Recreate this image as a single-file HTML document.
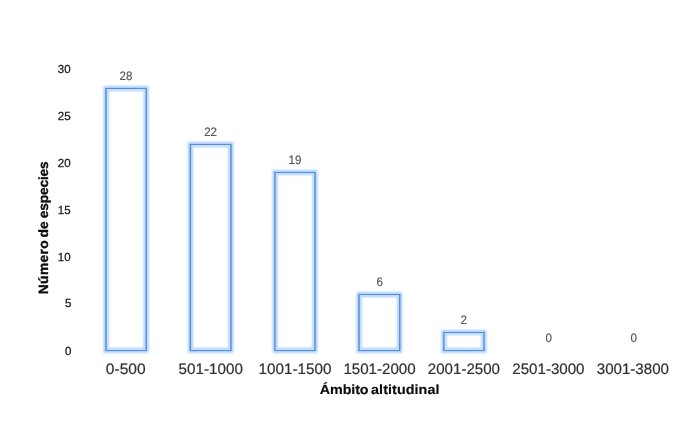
<!DOCTYPE html>
<html lang="es">
<head>
<meta charset="utf-8">
<title>Número de especies por ámbito altitudinal</title>
<style>
html,body{margin:0;padding:0;background:#fff;}
body{width:700px;height:441px;overflow:hidden;}
svg{display:block;}
text{font-family:"Liberation Sans",sans-serif;text-rendering:geometricPrecision;}
.ax{font-size:11.7px;fill:#151515;stroke:#151515;stroke-width:0.25px;}
.val{font-size:12.3px;fill:#595959;stroke:#595959;stroke-width:0.2px;}
.cat{font-size:15.1px;fill:#303030;stroke:#303030;stroke-width:0.2px;}
.ttl{font-size:13.4px;font-weight:bold;fill:#0c0c0c;stroke:#0c0c0c;stroke-width:0.15px;}
.yt{stroke-width:0.32px;}
.glow{fill:none;stroke:#a6ccfc;stroke-width:4.8;filter:url(#gl);}
.glin{fill:none;stroke:#c3dfff;stroke-width:2.2;filter:url(#gl2);}
.edge{fill:#5a8dd4;stroke:none;}
</style>
</head>
<body>
<svg width="700" height="441" viewBox="0 0 700 441" role="img" aria-label="Número de especies por ámbito altitudinal">
<defs>
<filter id="gl" x="-8" y="-8" width="60" height="300" filterUnits="userSpaceOnUse" primitiveUnits="userSpaceOnUse"><feGaussianBlur stdDeviation="1.0"/></filter>
<filter id="gl2" x="-8" y="-8" width="60" height="300" filterUnits="userSpaceOnUse" primitiveUnits="userSpaceOnUse"><feGaussianBlur stdDeviation="0.7"/></filter>
</defs>
<rect x="0" y="0" width="700" height="441" fill="#ffffff"/>
<text class="ax" transform="translate(71.40 354.70) scale(0.985 1)" text-anchor="end">0</text>
<text class="ax" transform="translate(71.40 307.40) scale(0.985 1)" text-anchor="end">5</text>
<text class="ax" transform="translate(70.60 261.30) scale(0.985 1)" text-anchor="end">10</text>
<text class="ax" transform="translate(70.60 214.00) scale(0.985 1)" text-anchor="end">15</text>
<text class="ax" transform="translate(70.60 167.30) scale(0.985 1)" text-anchor="end">20</text>
<text class="ax" transform="translate(70.60 120.20) scale(0.985 1)" text-anchor="end">25</text>
<text class="ax" transform="translate(70.60 73.40) scale(0.985 1)" text-anchor="end">30</text>
<g transform="translate(106.00 88.50)"><rect class="glow" x="0" y="0" width="40.15" height="261.95"/><rect class="glin" x="1.4" y="1.3" width="37.35" height="259.35"/><path class="edge" fill-rule="evenodd" d="M-0.68 -0.50H40.83V262.45H-0.68Z M0.68 0.50V261.45H39.47V0.50Z"/></g>
<g transform="translate(190.45 144.50)"><rect class="glow" x="0" y="0" width="40.45" height="205.95"/><rect class="glin" x="1.4" y="1.3" width="37.65" height="203.35"/><path class="edge" fill-rule="evenodd" d="M-0.68 -0.50H41.13V206.45H-0.68Z M0.68 0.50V205.45H39.77V0.50Z"/></g>
<g transform="translate(275.00 172.45)"><rect class="glow" x="0" y="0" width="40.00" height="178.00"/><rect class="glin" x="1.4" y="1.3" width="37.20" height="175.40"/><path class="edge" fill-rule="evenodd" d="M-0.68 -0.50H40.68V178.50H-0.68Z M0.68 0.50V177.50H39.32V0.50Z"/></g>
<g transform="translate(359.10 294.60)"><rect class="glow" x="0" y="0" width="40.55" height="55.85"/><rect class="glin" x="1.4" y="1.3" width="37.75" height="53.25"/><path class="edge" fill-rule="evenodd" d="M-0.68 -0.50H41.23V56.35H-0.68Z M0.68 0.50V55.35H39.87V0.50Z"/></g>
<g transform="translate(443.90 332.50)"><rect class="glow" x="0" y="0" width="40.05" height="17.95"/><rect class="glin" x="1.4" y="1.3" width="37.25" height="15.35"/><path class="edge" fill-rule="evenodd" d="M-0.68 -0.50H40.73V18.45H-0.68Z M0.68 0.50V17.45H39.37V0.50Z"/></g>
<text class="val" transform="translate(126.00 80.00) scale(0.94 1)" text-anchor="middle">28</text>
<text class="val" transform="translate(210.60 136.00) scale(0.94 1)" text-anchor="middle">22</text>
<text class="val" transform="translate(294.90 164.10) scale(0.94 1)" text-anchor="middle">19</text>
<text class="val" transform="translate(379.70 286.00) scale(0.94 1)" text-anchor="middle">6</text>
<text class="val" transform="translate(463.60 324.10) scale(0.94 1)" text-anchor="middle">2</text>
<text class="val" transform="translate(548.80 342.00) scale(0.94 1)" text-anchor="middle">0</text>
<text class="val" transform="translate(633.70 342.00) scale(0.94 1)" text-anchor="middle">0</text>
<text class="cat" transform="translate(125.70 374.20) scale(1.03 1)" text-anchor="middle">0-500</text>
<text class="cat" transform="translate(210.70 374.20) scale(1.008 1)" text-anchor="middle">501-1000</text>
<text class="cat" transform="translate(295.00 374.20) scale(1.01 1)" text-anchor="middle">1001-1500</text>
<text class="cat" transform="translate(379.50 374.20)" text-anchor="middle">1501-2000</text>
<text class="cat" transform="translate(463.90 374.20)" text-anchor="middle">2001-2500</text>
<text class="cat" transform="translate(548.40 374.20)" text-anchor="middle">2501-3000</text>
<text class="cat" transform="translate(632.85 374.20)" text-anchor="middle">3001-3800</text>
<text class="ttl" transform="translate(319.77 394.10) scale(1.07 1)"><tspan style="letter-spacing:-0.108px;word-spacing:-1.13px">Ámbito </tspan><tspan style="letter-spacing:0.065px">altitudinal</tspan></text>
<text class="ttl yt" transform="translate(47.50 294.20) rotate(-90) scale(1.03 1)"><tspan style="letter-spacing:0.335px;word-spacing:-1.655px">Número </tspan><tspan style="word-spacing:-0.68px">de </tspan><tspan style="letter-spacing:-0.172px">especies</tspan></text>
</svg>
</body>
</html>
